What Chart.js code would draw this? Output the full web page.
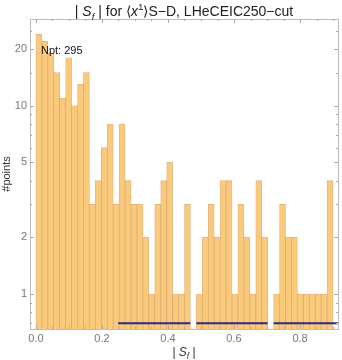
<!DOCTYPE html>
<html lang="en">
<head>
  <meta charset="UTF-8">
  <title>|Sf| histogram</title>
  <script src="https://cdn.jsdelivr.net/npm/chart.js"></script>
  <style>
    body { margin: 0; background: #fff; }
    #wrap { width: 342px; height: 360px; }
  </style>
</head>
<body>
  <div id="wrap"><canvas id="histChart" width="342" height="360"></canvas></div>

  <script>
    // histogram bins: 50 bins of width 0.018 starting at 0
    const binStart = 0;
    const binWidth = 0.018;
    const counts = [
      24, 22, 19, 15, 11, 18, 10, 13, 15, 3,
      4, 6, 8, 3, 8, 4, 3, 3, 2, 1,
      3, 4, 5, 1, 1, 3, 0, 1, 2, 3,
      2, 4, 4, 1, 3, 2, 1, 4, 2, 0,
      1, 3, 2, 2, 1, 1, 1, 1, 1, 4
    ];

    // dark blue baseline segments (x from, x to) and its level
    const lineSegments = [[0.249, 0.468], [0.486, 0.702], [0.72, 0.915]];
    const lineLevel = 0.7;

    const xTicks = [0, 0.2, 0.4, 0.6, 0.8];
    const xMinorTicks = [0.05, 0.1, 0.15, 0.25, 0.3, 0.35, 0.45, 0.5, 0.55, 0.65, 0.7, 0.75, 0.85, 0.9];
    const yTicks = [1, 2, 5, 10, 20];
    const yMinorTicks = [0.7, 0.8, 0.9, 3, 4, 6, 7, 8, 9, 15, 25];

    const npt = 295;

    const barData = counts.map((c, i) => ({
      x: binStart + (i + 0.5) * binWidth,
      y: c > 0 ? c : null
    }));

    const lineData = [];
    lineSegments.forEach(seg => {
      lineData.push({ x: seg[0], y: lineLevel });
      lineData.push({ x: seg[1], y: lineLevel });
      lineData.push({ x: (seg[1] + 0.001), y: null });
    });

    const FONT = '"Liberation Sans", Arial, sans-serif';

    // draws text pieces with italic / sub / sup styles
    function richText(ctx, pieces, x, y, size, align) {
      const fontFor = p => {
        const s = (p.sub || p.sup) ? size * 0.7 : size;
        return (p.italic ? 'italic ' : '') + s + 'px ' + FONT;
      };
      let total = 0;
      pieces.forEach(p => { ctx.font = fontFor(p); total += ctx.measureText(p.t).width; });
      let cx = align === 'center' ? x - total / 2 : x;
      pieces.forEach(p => {
        ctx.font = fontFor(p);
        let dy = 0;
        if (p.sub) dy = size * 0.25;
        if (p.sup) dy = -size * 0.4;
        ctx.fillText(p.t, cx, y + dy);
        cx += ctx.measureText(p.t).width;
      });
    }

    const framePlugin = {
      id: 'frame',
      afterDraw(chart) {
        const ctx = chart.ctx;
        const a = chart.chartArea;
        const xs = chart.scales.x, ys = chart.scales.y;
        ctx.save();
        ctx.strokeStyle = '#bdbdbd';
        ctx.lineWidth = 1;
        ctx.strokeRect(a.left + 0.5, a.top + 0.5, a.right - a.left, a.bottom - a.top);

        // inward tick marks on all sides
        ctx.strokeStyle = '#aaaaaa';
        const tick = (v, len, isX) => {
          if (isX) {
            const px = Math.round(xs.getPixelForValue(v)) + 0.5;
            ctx.beginPath();
            ctx.moveTo(px, a.bottom); ctx.lineTo(px, a.bottom - len);
            ctx.moveTo(px, a.top); ctx.lineTo(px, a.top + len);
            ctx.stroke();
          } else {
            const py = Math.round(ys.getPixelForValue(v)) + 0.5;
            if (py < a.top || py > a.bottom) return;
            ctx.beginPath();
            ctx.moveTo(a.left, py); ctx.lineTo(a.left + len, py);
            ctx.moveTo(a.right, py); ctx.lineTo(a.right - len, py);
            ctx.stroke();
          }
        };
        xTicks.forEach(v => tick(v, 4, true));
        xMinorTicks.forEach(v => tick(v, 2, true));
        yTicks.forEach(v => tick(v, 4, false));
        yMinorTicks.forEach(v => tick(v, 2, false));

        // title
        ctx.fillStyle = '#222';
        ctx.textBaseline = 'alphabetic';
        richText(ctx, [
          { t: '| ' }, { t: 'S', italic: true }, { t: 'f', italic: true, sub: true },
          { t: ' | for \u27E8' }, { t: 'x', italic: true }, { t: '1', sup: true },
          { t: '\u27E9S\u2212D, LHeCEIC250\u2212cut' }
        ], (a.left + a.right) / 2, 16, 14, 'center');

        // x axis title
        ctx.fillStyle = '#333';
        richText(ctx, [
          { t: '| ' }, { t: 'S', italic: true }, { t: 'f', italic: true, sub: true }, { t: ' |' }
        ], (a.left + a.right) / 2, 356, 12, 'center');

        // point count label
        ctx.fillStyle = '#111';
        ctx.font = '11px ' + FONT;
        ctx.fillText('Npt: ' + npt, a.left + 11, a.top + 35);
        ctx.restore();
      }
    };

    const ctx = document.getElementById('histChart').getContext('2d');
    const histChart = new Chart(ctx, {
      type: 'bar',
      data: {
        datasets: [
          {
            type: 'bar',
            label: 'counts',
            data: barData,
            backgroundColor: '#FAC979',
            borderColor: 'rgba(205,150,80,0.7)',
            borderWidth: 0.8,
            barPercentage: 1,
            categoryPercentage: 1,
            order: 2
          },
          {
            type: 'line',
            label: 'baseline',
            data: lineData,
            borderColor: '#2B2A8C',
            borderWidth: 2,
            pointRadius: 0,
            spanGaps: false,
            order: 1
          }
        ]
      },
      options: {
        responsive: false,
        animation: false,
        layout: { padding: { top: 19, right: 4, left: 0, bottom: 0 } },
        plugins: {
          legend: { display: false },
          tooltip: { enabled: false }
        },
        scales: {
          x: {
            type: 'linear',
            min: -0.018,
            max: 0.915,
            offset: false,
            grid: { display: false, drawTicks: false },
            border: { display: false },
            ticks: {
              padding: 3,
              color: '#777',
              font: { family: FONT, size: 11 },
              callback: v => v.toFixed(1)
            },
            afterBuildTicks: axis => { axis.ticks = xTicks.map(v => ({ value: v })); },
            afterFit: s => { s.height = 31; }
          },
          y: {
            type: 'logarithmic',
            min: 0.652,
            max: 28.9,
            grid: { display: false, drawTicks: false },
            border: { display: false },
            ticks: {
              padding: 3,
              color: '#777',
              font: { family: FONT, size: 11 },
              callback: v => String(v)
            },
            afterBuildTicks: axis => { axis.ticks = yTicks.map(v => ({ value: v })); },
            title: {
              display: true,
              text: '#points',
              color: '#333',
              font: { family: FONT, size: 11 },
              padding: { top: 0, bottom: 0 }
            },
            afterFit: s => { s.width = 30; }
          }
        }
      },
      plugins: [framePlugin]
    });
  </script>
</body>
</html>
